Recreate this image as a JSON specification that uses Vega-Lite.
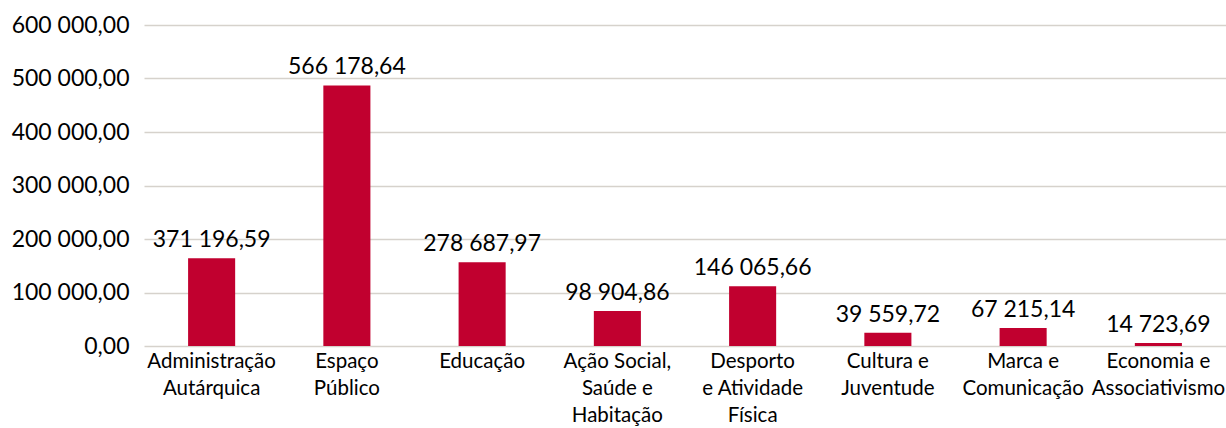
{
  "$schema": "https://vega.github.io/schema/vega-lite/v6.json",
  "width": 1082,
  "height": 321,
  "autosize": {"type": "none"},
  "padding": {"left": 144, "top": 25, "right": 0, "bottom": 82},
  "background": "white",
  "data": {
    "values": [
      {"cat": "Administração|Autárquica", "value": 164200, "label": "371 196,59"},
      {"cat": "Espaço|Público", "value": 487000, "label": "566 178,64"},
      {"cat": "Educação", "value": 156700, "label": "278 687,97"},
      {"cat": "Ação Social,|Saúde e|Habitação", "value": 65300, "label": "98 904,86"},
      {"cat": "Desporto|e Atividade|Física", "value": 111900, "label": "146 065,66"},
      {"cat": "Cultura e|Juventude", "value": 24800, "label": "39 559,72"},
      {"cat": "Marca e|Comunicação", "value": 33600, "label": "67 215,14"},
      {"cat": "Economia e|Associativismo", "value": 5600, "label": "14 723,69"}
    ]
  },
  "config": {
    "view": {"stroke": null},
    "font": "Lato"
  },
  "encoding": {
    "x": {
      "field": "cat",
      "type": "nominal",
      "sort": null,
      "scale": {"paddingInner": 0.652, "paddingOuter": 0.326},
      "axis": {
        "title": null,
        "labelAngle": 0,
        "labelExpr": "split(datum.label, '|')",
        "labelFont": "Lato",
        "labelFontSize": 20.5,
        "labelColor": "#000000",
        "labelLineHeight": 27,
        "labelPadding": 5,
        "labelBaseline": "top",
        "ticks": false,
        "domain": false,
        "labelLimit": 300
      }
    },
    "y": {
      "field": "value",
      "type": "quantitative",
      "scale": {"domain": [0, 600000], "nice": false},
      "axis": {
        "title": null,
        "values": [0, 100000, 200000, 300000, 400000, 500000, 600000],
        "labelExpr": "replace(replace(format(datum.value, ',.2f'), regexp(',', 'g'), ' '), '.', ',')",
        "labelFont": "Lato",
        "labelFontSize": 23,
        "labelColor": "#000000",
        "labelPadding": 15,
        "ticks": false,
        "domain": false,
        "grid": true,
        "gridColor": "#d6d2cc",
        "gridWidth": 1.3
      }
    }
  },
  "layer": [
    {
      "mark": {"type": "bar", "color": "#c1002f"}
    },
    {
      "mark": {"type": "text", "baseline": "bottom", "dy": -6, "fontSize": 23, "font": "Lato", "color": "#000000"},
      "encoding": {"text": {"field": "label"}}
    }
  ]
}
